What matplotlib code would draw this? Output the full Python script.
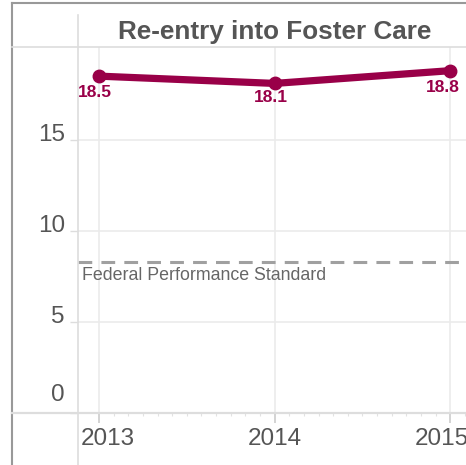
"""Re-entry into Foster Care: rate by year vs. the federal performance standard."""

import matplotlib

matplotlib.use("Agg")
import matplotlib.pyplot as plt
import matplotlib.transforms as mtransforms
import numpy as np
from matplotlib.lines import Line2D

plt.rcParams["font.family"] = ["Liberation Sans", "DejaVu Sans"]

years = [2013, 2014, 2015]
rates = [18.5, 18.1, 18.8]
value_labels = ["18.5", "18.1", "18.8"]
federal_standard = 8.3
y_ticks = [0, 5, 10, 15]
title = "Re-entry into Foster Care"
standard_label = "Federal Performance Standard"

W, H = 466, 465
LINE = "#990048"
TEXT = "#555555"
GRID = "#ebebeb"


def fx(px):
    return px / W


def fy(py):
    return 1 - py / H


fig = plt.figure(figsize=(W / 100, H / 100), dpi=100)
fig.patch.set_facecolor("white")

# plot area: left edge at x=78px, bottom at y=413px, top at y=47px, runs off the right side
ax = fig.add_axes([fx(78), fy(413), fx(W - 78), (413 - 47) / H])
ax.set_xlim(2012.88, 2015.09)
ax.set_ylim(0, 20.1)
for side in ("left", "right", "top", "bottom"):
    ax.spines[side].set_visible(False)

# gridlines
for v in y_ticks[1:]:
    ax.axhline(v, color=GRID, lw=1.2, zorder=0)
for yr in years:
    ax.axvline(yr, color=GRID, lw=1.2, zorder=0)

# series
ax.plot(years, rates, color=LINE, lw=5.2, marker="o", ms=9, solid_capstyle="round", zorder=3, clip_on=False)
offsets = [(-4, -9), (-4, -7), (-7, -9)]
for x, y, lab, (dx, dy) in zip(years, rates, value_labels, offsets):
    ax.annotate(lab, (x, y), xytext=(dx * 0.72, dy * 0.72), textcoords="offset points",
                ha="center", va="top", color=LINE, fontsize=12.5, fontweight="bold")

# federal standard
ax.axhline(federal_standard, color="#a0a0a0", lw=2.2, dashes=(4.5, 3), zorder=2)
ax.annotate(standard_label, (0, federal_standard), xycoords=("axes fraction", "data"),
            xytext=(3, -4), textcoords="offset points", ha="left", va="top",
            color="#666666", fontsize=12.8)

# y tick labels drawn above their gridlines
ax.set_yticks(y_ticks)
ax.set_yticklabels([])
ax.tick_params(axis="y", length=6, color="#dddddd", width=1)
for v in y_ticks:
    lift = 13 if v == 0 else 3.6
    ax.annotate(str(v), (0, v), xycoords=("axes fraction", "data"), xytext=(-9.5, lift),
                textcoords="offset points", ha="right", va="center", color=TEXT, fontsize=17.5)

# x ticks: years major, months minor
ax.set_xticks(years)
ax.set_xticklabels([str(y) for y in years], fontsize=17.5, color=TEXT)
ax.set_xticks(np.arange(2013, 2015.09, 1 / 12), minor=True)
ax.tick_params(axis="x", which="major", length=7, color="#cccccc", width=1.2, pad=4)
ax.tick_params(axis="x", which="minor", length=2.5, color="#e2e2e2", width=0.8)
shifts = [6.5, 0, -6.0]
for lab, s in zip(ax.get_xticklabels(), shifts):
    lab.set_transform(lab.get_transform() + mtransforms.ScaledTranslation(s / 72, 0, fig.dpi_scale_trans))

# frame and separators in pixel positions
frame = [
    ((12, 12), (3, H), "#999999", 1.5),
    ((12, W), (3, 3), "#999999", 1.5),
    ((12, W), (47, 47), "#dddddd", 1.2),
    ((12, W), (413, 413), "#dddddd", 1.6),
    ((78, 78), (15, H), "#dddddd", 1.2),
]
for xs, ys, c, lw in frame:
    fig.add_artist(Line2D([fx(xs[0]), fx(xs[1])], [fy(ys[0]), fy(ys[1])], color=c, lw=lw,
                          transform=fig.transFigure))

fig.text(fx(275), fy(32), title, ha="center", va="center", fontsize=18.8, fontweight="bold", color=TEXT)

fig.savefig("out.png", dpi=100)
